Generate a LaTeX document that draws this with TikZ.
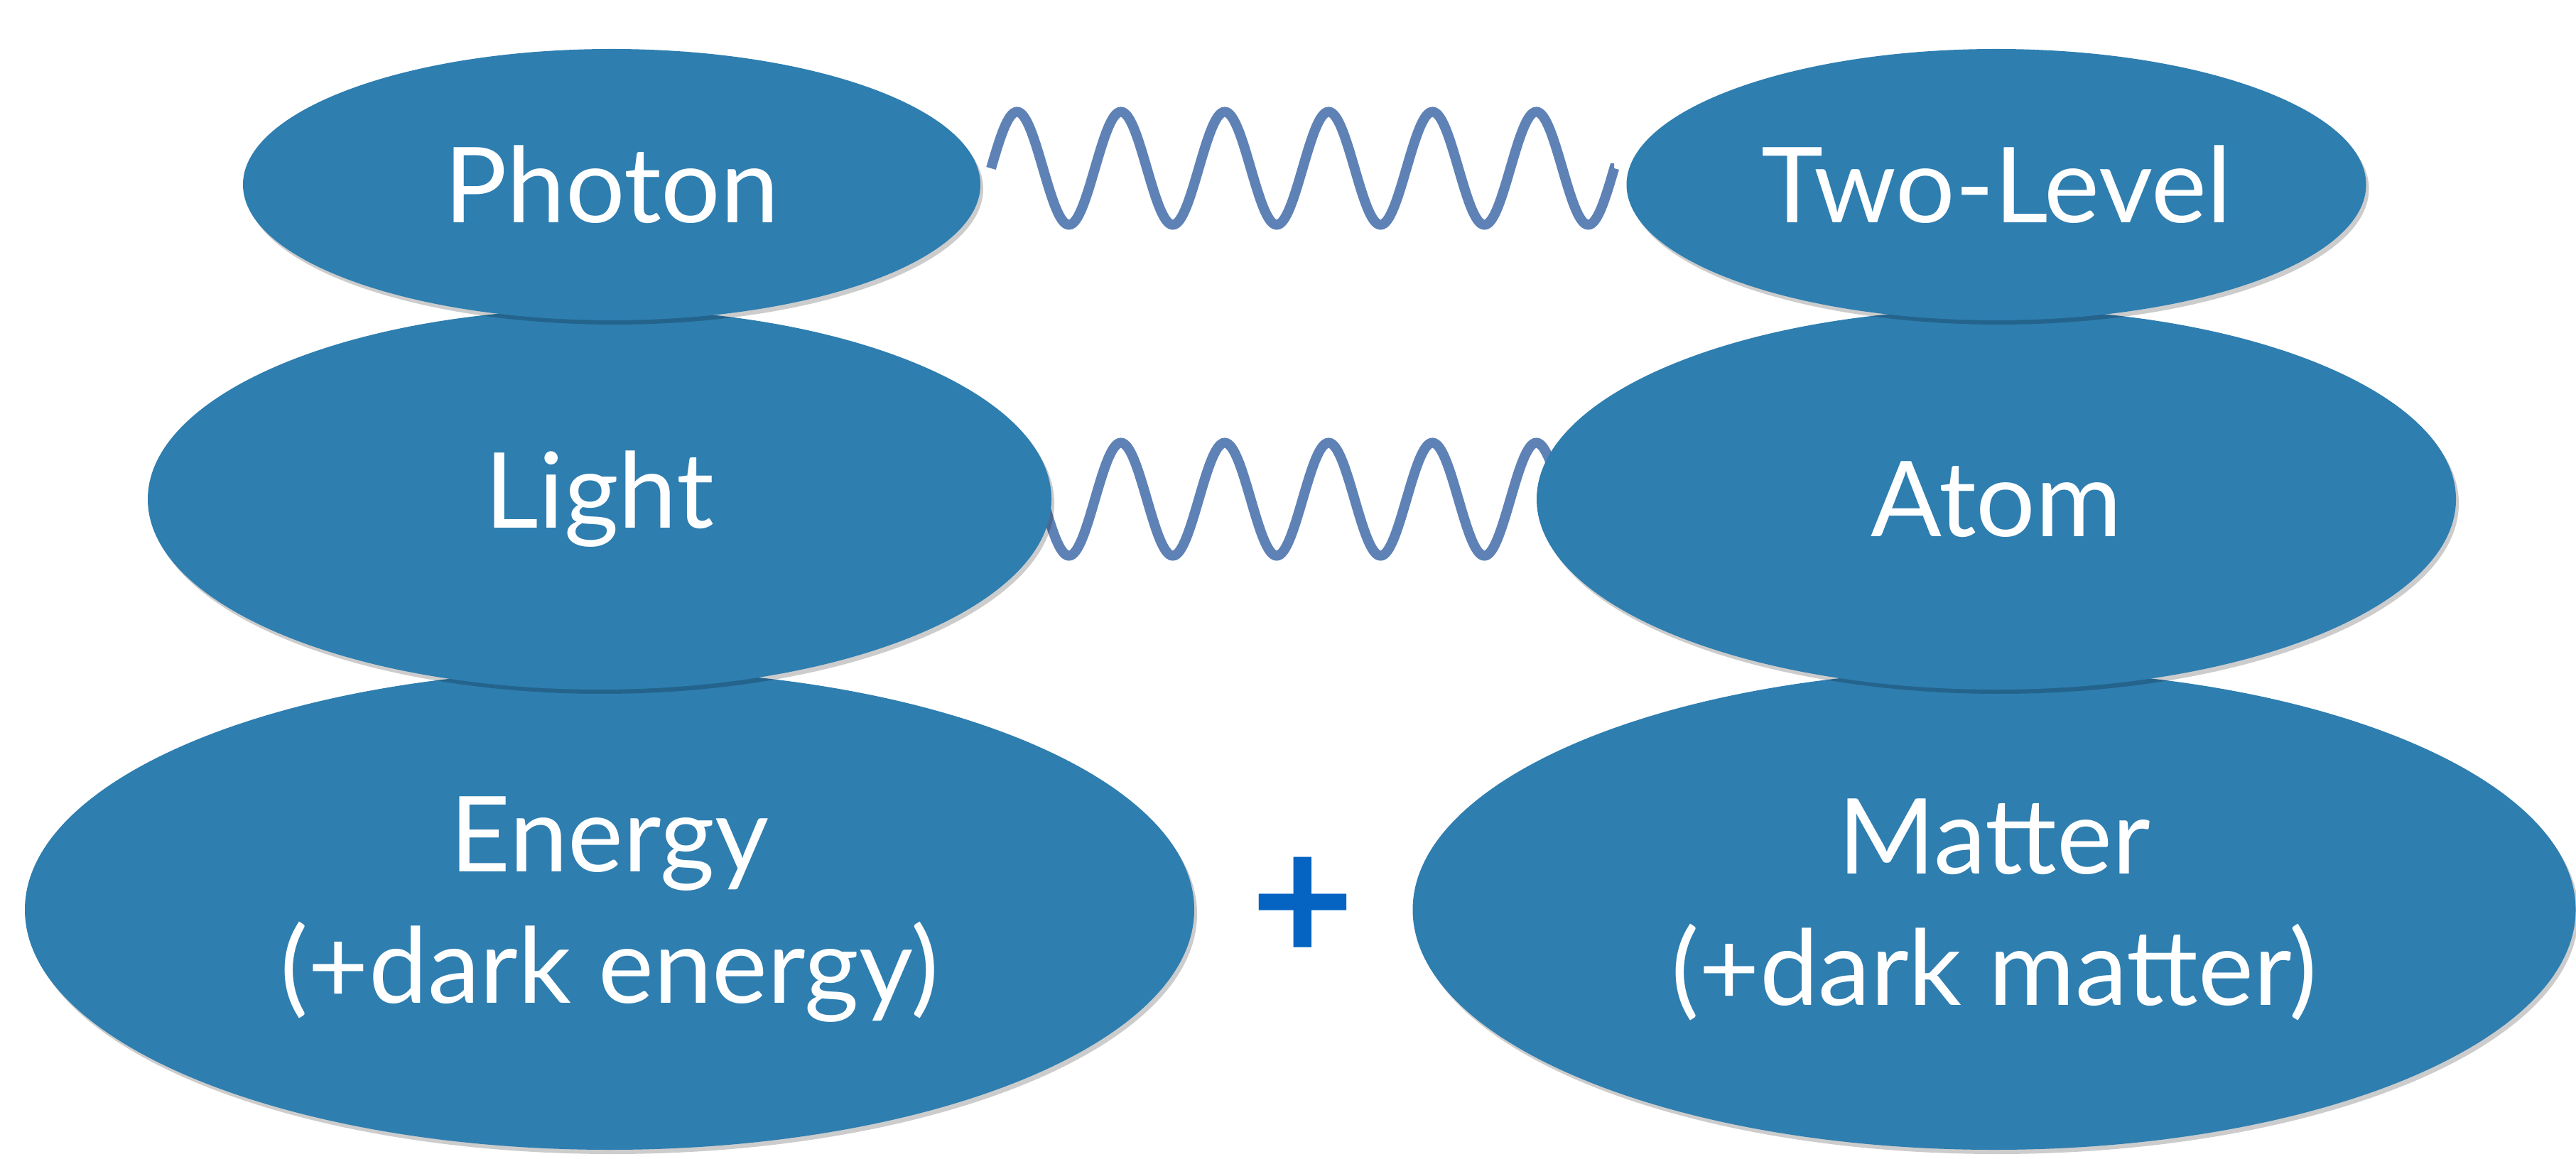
\documentclass[tikz,border=0pt]{standalone}
\usepackage{fontspec}
\setmainfont{Lato}
\usetikzlibrary{shapes.geometric, shadows}
\definecolor{blobblue}{RGB}{46,126,176}
\definecolor{waveblue}{RGB}{95,130,182}
\definecolor{plusblue}{RGB}{5,99,193}
\tikzset{
blob/.style={ellipse, fill=blobblue, inner sep=0pt, text=white, align=center,
  font=\fontsize{42}{52.6}\selectfont,
  drop shadow={shadow xshift=.04cm, shadow yshift=-.06cm, opacity=.2, fill=black}}, % the blue ovals
wave/.style={draw=waveblue, line width=.14cm}, % the wavy links
}
% one full period of the wave, a quarter is .3655cm long
\newcommand{\waveperiod}{sin ++(.3655,-.795) cos ++(.3655,.795) sin ++(.3655,.795) cos ++(.3655,-.795)}
\begin{document}
\begin{tikzpicture}[x=1cm, y=-1cm]
  \useasboundingbox (0,0) rectangle (36.26,16.32);
  % bottom row
  \node[blob, minimum width=16.46cm, minimum height=6.76cm] (energy) at (8.58,12.81) {Energy\\(+dark energy)};
  \node[blob, minimum width=16.37cm, minimum height=6.76cm] (matter) at (28.07,12.81) {Matter\\(+dark matter)};
  \node[text=plusblue, font=\fontsize{72}{72}\bfseries\selectfont] (plus) at (18.34,12.81) {+};
  % middle wave goes behind light and atom
  \coordinate (lwa) at (13.95,7.03);
  \coordinate (lwb) at (22.722,7.03);
  \draw[wave] (lwa) \foreach \k in {1,...,6}{\waveperiod} -- (lwb);
  \node[blob, minimum width=12.72cm, minimum height=5.36cm] (light) at (8.44,7.03) {Light};
  \node[blob, minimum width=12.94cm, minimum height=5.36cm] (atom) at (28.10,7.03) {Atom};
  % top row
  \node[blob, minimum width=10.38cm, minimum height=3.82cm] (photon) at (8.61,2.60) {Photon};
  \node[blob, minimum width=10.41cm, minimum height=3.82cm] (twolevel) at (28.10,2.60) {Two-Level};
  \coordinate (twa) at (13.95,2.37);
  \coordinate (twb) at (22.722,2.37);
  \draw[wave] (twa) \foreach \k in {1,...,6}{\waveperiod} -- (twb);
\end{tikzpicture}
\end{document}
